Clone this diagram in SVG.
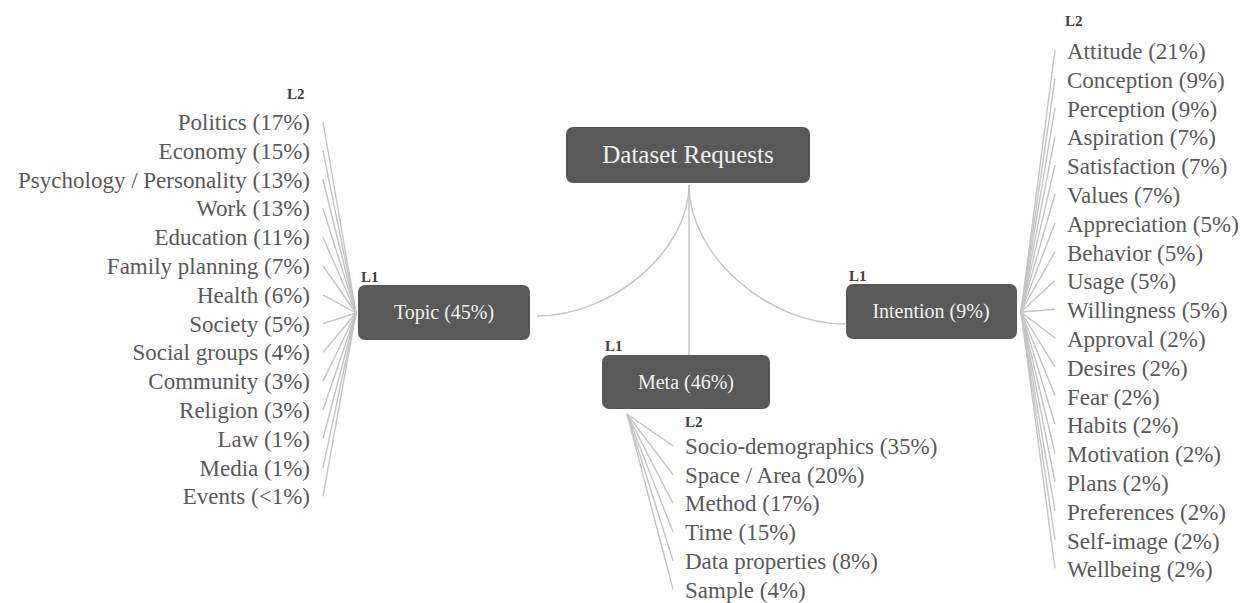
<svg xmlns="http://www.w3.org/2000/svg" width="1249" height="603" viewBox="0 0 1249 603">
<style>
.node{fill:#595959;}
text{font-family:'Liberation Serif','Times New Roman','DejaVu Serif',serif;}
.nt{font-size:20px;fill:#f2f2f2;text-anchor:middle;}
.lvl{font-size:15px;font-weight:bold;fill:#404040;}
.lab{font-size:23px;fill:#595959;}
.r{text-anchor:end;}
.conn path,.conn line{fill:none;stroke:#c4c4c4;stroke-width:1.4;}
</style>
<rect width="1249" height="603" fill="#ffffff"/>
<g class="conn" id="connectors">
<path d="M689,185 C689,250 613,316 537,316"/>
<path d="M689,185 C689,255 767,324 845,324"/>
<line x1="689" y1="185" x2="689" y2="355"/>
<g id="topic-lines">
<line x1="356" y1="313" x2="323" y2="122"/>
<line x1="356" y1="313" x2="323" y2="150.8"/>
<line x1="356" y1="313" x2="323" y2="179.6"/>
<line x1="356" y1="313" x2="323" y2="208.4"/>
<line x1="356" y1="313" x2="323" y2="237.2"/>
<line x1="356" y1="313" x2="323" y2="266"/>
<line x1="356" y1="313" x2="323" y2="294.8"/>
<line x1="356" y1="313" x2="323" y2="323.6"/>
<line x1="356" y1="313" x2="323" y2="352.4"/>
<line x1="356" y1="313" x2="323" y2="381.2"/>
<line x1="356" y1="313" x2="323" y2="410"/>
<line x1="356" y1="313" x2="323" y2="438.8"/>
<line x1="356" y1="313" x2="323" y2="467.6"/>
<line x1="356" y1="313" x2="323" y2="496.4"/>
</g>
<g id="meta-lines">
<line x1="627" y1="414" x2="673" y2="446"/>
<line x1="627" y1="414" x2="673" y2="474.7"/>
<line x1="627" y1="414" x2="673" y2="503.4"/>
<line x1="627" y1="414" x2="673" y2="532.1"/>
<line x1="627" y1="414" x2="673" y2="560.8"/>
<line x1="627" y1="414" x2="673" y2="589.5"/>
</g>
<g id="intention-lines">
<line x1="1021" y1="312" x2="1055" y2="50"/>
<line x1="1021" y1="312" x2="1055" y2="78.8"/>
<line x1="1021" y1="312" x2="1055" y2="107.6"/>
<line x1="1021" y1="312" x2="1055" y2="136.4"/>
<line x1="1021" y1="312" x2="1055" y2="165.2"/>
<line x1="1021" y1="312" x2="1055" y2="194"/>
<line x1="1021" y1="312" x2="1055" y2="222.8"/>
<line x1="1021" y1="312" x2="1055" y2="251.6"/>
<line x1="1021" y1="312" x2="1055" y2="280.4"/>
<line x1="1021" y1="312" x2="1055" y2="309.2"/>
<line x1="1021" y1="312" x2="1055" y2="338"/>
<line x1="1021" y1="312" x2="1055" y2="366.8"/>
<line x1="1021" y1="312" x2="1055" y2="395.6"/>
<line x1="1021" y1="312" x2="1055" y2="424.4"/>
<line x1="1021" y1="312" x2="1055" y2="453.2"/>
<line x1="1021" y1="312" x2="1055" y2="482"/>
<line x1="1021" y1="312" x2="1055" y2="510.8"/>
<line x1="1021" y1="312" x2="1055" y2="539.6"/>
<line x1="1021" y1="312" x2="1055" y2="568.4"/>
</g>
</g>
<g id="root">
<rect class="node" x="566" y="127" width="244" height="56" rx="7"/>
<text x="688" y="163" class="nt" style="font-size:25px">Dataset Requests</text>
</g>
<g id="topic">
<text x="361" y="282" class="lvl">L1</text>
<rect class="node" x="358" y="285" width="172" height="55" rx="7"/>
<text x="444" y="319" class="nt">Topic (45%)</text>
</g>
<g id="meta">
<text x="605" y="351" class="lvl">L1</text>
<rect class="node" x="602" y="355" width="168" height="54" rx="7"/>
<text x="686" y="389" class="nt">Meta (46%)</text>
</g>
<g id="intention">
<text x="849" y="281" class="lvl">L1</text>
<rect class="node" x="846" y="284" width="171" height="55" rx="7"/>
<text x="931" y="318" class="nt">Intention (9%)</text>
</g>
<g id="topic-l2">
<text x="287" y="99" class="lvl">L2</text>
<text x="310" y="130" class="lab r">Politics (17%)</text>
<text x="310" y="158.8" class="lab r">Economy (15%)</text>
<text x="310" y="187.6" class="lab r">Psychology / Personality (13%)</text>
<text x="310" y="216.4" class="lab r">Work (13%)</text>
<text x="310" y="245.2" class="lab r">Education (11%)</text>
<text x="310" y="274" class="lab r">Family planning (7%)</text>
<text x="310" y="302.8" class="lab r">Health (6%)</text>
<text x="310" y="331.6" class="lab r">Society (5%)</text>
<text x="310" y="360.4" class="lab r">Social groups (4%)</text>
<text x="310" y="389.2" class="lab r">Community (3%)</text>
<text x="310" y="418" class="lab r">Religion (3%)</text>
<text x="310" y="446.8" class="lab r">Law (1%)</text>
<text x="310" y="475.6" class="lab r">Media (1%)</text>
<text x="310" y="504.4" class="lab r">Events (&lt;1%)</text>
</g>
<g id="meta-l2">
<text x="685" y="427" class="lvl">L2</text>
<text x="685" y="454" class="lab">Socio-demographics (35%)</text>
<text x="685" y="482.7" class="lab">Space / Area (20%)</text>
<text x="685" y="511.4" class="lab">Method (17%)</text>
<text x="685" y="540.1" class="lab">Time (15%)</text>
<text x="685" y="568.8" class="lab">Data properties (8%)</text>
<text x="685" y="597.5" class="lab">Sample (4%)</text>
</g>
<g id="intention-l2">
<text x="1065" y="26" class="lvl">L2</text>
<text x="1067" y="59" class="lab">Attitude (21%)</text>
<text x="1067" y="87.8" class="lab">Conception (9%)</text>
<text x="1067" y="116.6" class="lab">Perception (9%)</text>
<text x="1067" y="145.4" class="lab">Aspiration (7%)</text>
<text x="1067" y="174.2" class="lab">Satisfaction (7%)</text>
<text x="1067" y="203" class="lab">Values (7%)</text>
<text x="1067" y="231.8" class="lab">Appreciation (5%)</text>
<text x="1067" y="260.6" class="lab">Behavior (5%)</text>
<text x="1067" y="289.4" class="lab">Usage (5%)</text>
<text x="1067" y="318.2" class="lab">Willingness (5%)</text>
<text x="1067" y="347" class="lab">Approval (2%)</text>
<text x="1067" y="375.8" class="lab">Desires (2%)</text>
<text x="1067" y="404.6" class="lab">Fear (2%)</text>
<text x="1067" y="433.4" class="lab">Habits (2%)</text>
<text x="1067" y="462.2" class="lab">Motivation (2%)</text>
<text x="1067" y="491" class="lab">Plans (2%)</text>
<text x="1067" y="519.8" class="lab">Preferences (2%)</text>
<text x="1067" y="548.6" class="lab">Self-image (2%)</text>
<text x="1067" y="577.4" class="lab">Wellbeing (2%)</text>
</g>
</svg>
